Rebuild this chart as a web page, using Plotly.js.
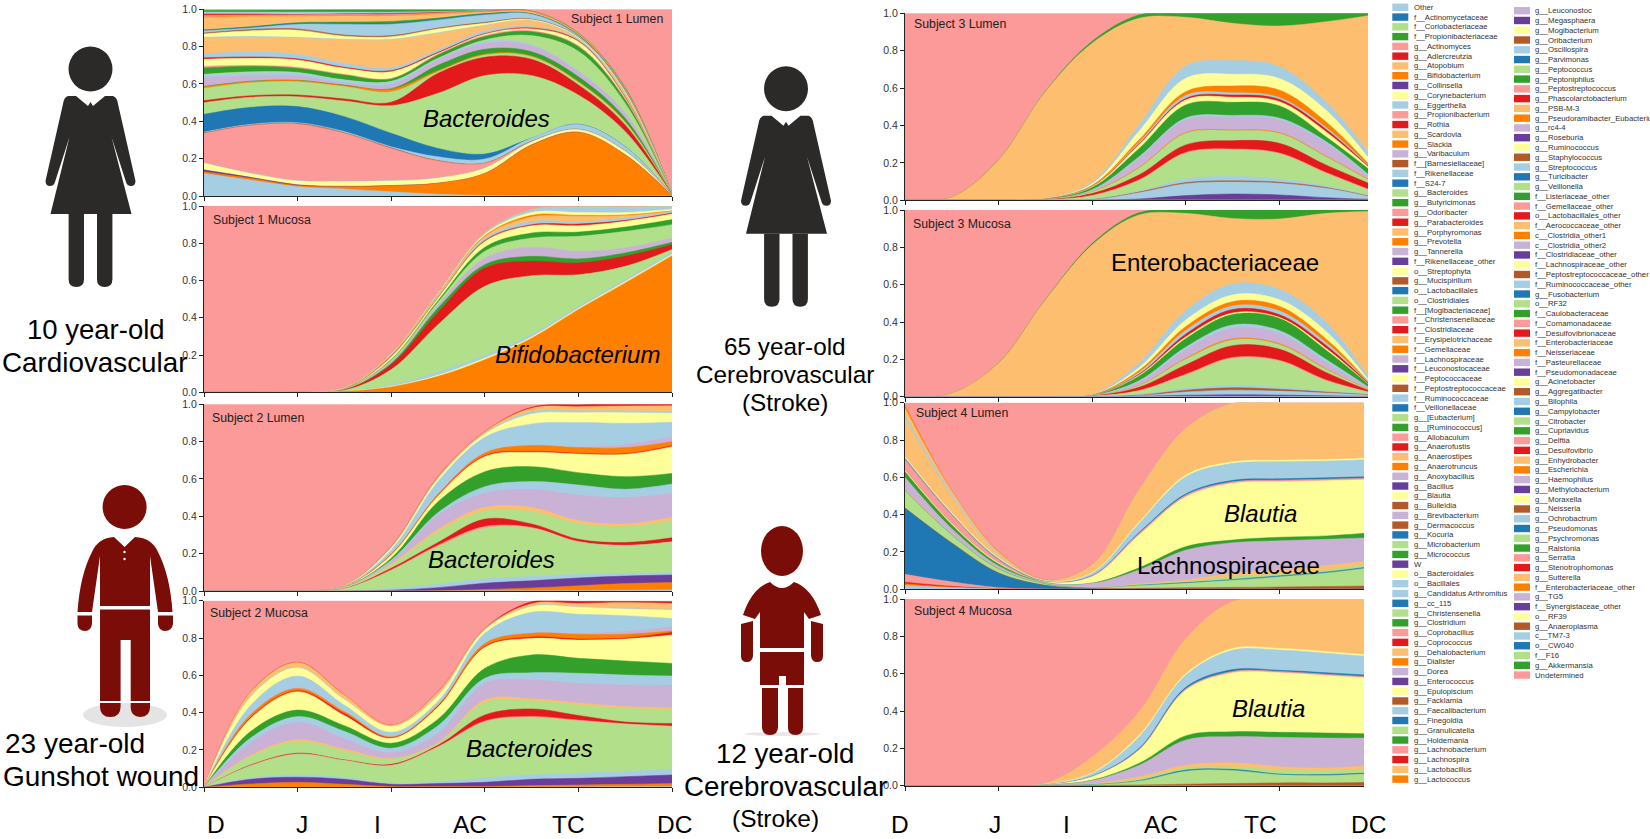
<!DOCTYPE html>
<html>
<head>
<meta charset="utf-8">
<script src="https://cdn.plot.ly/plotly-3.0.1.min.js"></script>
<style>html,body{margin:0;padding:0;background:#fff;overflow:hidden}#chart{width:1650px;height:839px}</style>
</head>
<body>
<div id="chart"></div>
<script>
const siteLabels = ['D','J','I','AC','TC','DC'];
const positions = [0,.5,1,1.5,2,2.5,3,3.5,4,4.5,5];
const paired = ['#a6cee3','#1f78b4','#b2df8a','#33a02c','#fb9a99','#e31a1c','#fdbf6f','#ff7f00','#cab2d6','#6a3d9a','#ffff99','#b15928'];

const legendCol1 = ['Other','f__Actinomycetaceae','f__Coriobacteriaceae','f__Propionibacteriaceae','g__Actinomyces','g__Adlercreutzia','g__Atopobium','g__Bifidobacterium','g__Collinsella','g__Corynebacterium','g__Eggerthella','g__Propionibacterium','g__Rothia','g__Scardovia','g__Slackia','g__Varibaculum','f__[Barnesiellaceae]','f__Rikenellaceae','f__S24-7','g__Bacteroides','g__Butyricimonas','g__Odoribacter','g__Parabacteroides','g__Porphyromonas','g__Prevotella','g__Tannerella','f__Rikenellaceae_other','o__Streptophyta','g__Mucispirillum','o__Lactobacillales','o__Clostridiales','f__[Mogibacteriaceae]','f__Christensenellaceae','f__Clostridiaceae','f__Erysipelotrichaceae','f__Gemellaceae','f__Lachnospiraceae','f__Leuconostocaceae','f__Peptococcaceae','f__Peptostreptococcaceae','f__Ruminococcaceae','f__Veillonellaceae','g__[Eubacterium]','g__[Ruminococcus]','g__Allobaculum','g__Anaerofustis','g__Anaerostipes','g__Anaerotruncus','g__Anoxybacillus','g__Bacillus','g__Blautia','g__Bulleidia','g__Brevibacterium','g__Dermacoccus','g__Kocuria','g__Microbacterium','g__Micrococcus','W','o__Bacteroidales','o__Bacillales','g__Candidatus Arthromitus','g__cc_115','g__Christensenella','g__Clostridium','g__Coprobacillus','g__Coprococcus','g__Dehalobacterium','g__Dialister','g__Dorea','g__Enterococcus','g__Epulopiscium','g__Facklamia','g__Faecalibacterium','g__Finegoldia','g__Granulicatella','g__Holdemania','g__Lachnobacterium','g__Lachnospira','g__Lactobacillus','g__Lactococcus'];
const legendCol1Paired = [0,1,2,3,4,5,6,7,9,10,0,4,5,6,7,8,11,0,1,2,3,4,5,6,7,8,9,10,11,1,2,3,4,5,6,7,8,9,10,11,0,1,2,3,4,5,6,7,8,9,10,11,8,11,1,2,3,9,10,0,0,1,2,3,4,5,6,7,8,9,10,11,0,1,2,3,4,5,6,7];
const legendCol2 = ['g__Leuconostoc','g__Megasphaera','g__Mogibacterium','g__Oribacterium','g__Oscillospira','g__Parvimonas','g__Peptococcus','g__Peptoniphilus','g__Peptostreptococcus','g__Phascolarctobacterium','g__PSB-M-3','g__Pseudoramibacter_Eubacterium','g__rc4-4','g__Roseburia','g__Ruminococcus','g__Staphylococcus','g__Streptococcus','g__Turicibacter','g__Veillonella','f__Listeriaceae_other','f__Gemellaceae_other','o__Lactobacillales_other','f__Aerococcaceae_other','c__Clostridia_other1','c__Clostridia_other2','f__Clostridiaceae_other','f__Lachnospiraceae_other','f__Peptostreptococcaceae_other','f__Ruminococcaceae_other','g__Fusobacterium','o__RF32','f__Caulobacteraceae','f__Comamonadaceae','f__Desulfovibrionaceae','f__Enterobacteriaceae','f__Neisseriaceae','f__Pasteurellaceae','f__Pseudomonadaceae','g__Acinetobacter','g__Aggregatibacter','g__Bilophila','g__Campylobacter','g__Citrobacter','g__Cupriavidus','g__Delftia','g__Desulfovibrio','g__Enhydrobacter','g__Escherichia','g__Haemophilus','g__Methylobacterium','g__Moraxella','g__Neisseria','g__Ochrobactrum','g__Pseudomonas','g__Psychromonas','g__Ralstonia','g__Serratia','g__Stenotrophomonas','g__Sutterella','f__Enterobacteriaceae_other','g__TG5','f__Synergistaceae_other','o__RF39','g__Anaeroplasma','c__TM7-3','o__CW040','f__F16','g__Akkermansia','Undetermined'];

const s1LumenTaxa = ['Other','g__Bifidobacterium','g__Collinsella','g__Corynebacterium','g__Eggerthella','g__Propionibacterium','f__[Barnesiellaceae]','f__Rikenellaceae','f__S24-7','g__Bacteroides','g__Parabacteroides','o__Clostridiales','f__Gemellaceae','f__[Mogibacteriaceae]','f__Lachnospiraceae','f__Ruminococcaceae','g__[Eubacterium]','g__[Ruminococcus]','g__Allobaculum','g__Blautia','g__Anaerofustis','o__Bacillales','g__Dehalobacterium','g__Candidatus Arthromitus','g__Epulopiscium','g__Facklamia','g__Faecalibacterium','g__Finegoldia','g__Holdemania','g__Lactobacillus','g__Lactococcus','g__Peptostreptococcus','g__Phascolarctobacterium','g__Streptococcus','f__Listeriaceae_other','g__Veillonella','Undetermined'];
const s1LumenTops = [
[.12,.085,.05,.038,.023,.01,.003,0,0,0,0],
[.13,.095,.056,.05,.055,.068,.12,.273,.341,.22,.003],
[.14,.10,.06,.052,.056,.069,.121,.274,.342,.221,.003],
[.175,.12,.08,.077,.08,.095,.148,.288,.354,.238,.004],
[.178,.123,.083,.08,.083,.098,.15,.29,.356,.24,.004],
[.335,.377,.386,.336,.255,.188,.175,.292,.357,.241,.004],
[.338,.38,.389,.339,.258,.19,.177,.294,.358,.242,.004],
[.342,.384,.393,.345,.264,.21,.198,.31,.384,.264,.005],
[.4375,.475,.479,.425,.336,.255,.225,.31,.385,.265,.005],
[.50,.529,.532,.509,.484,.55,.645,.645,.541,.345,.006],
[.511,.537,.541,.52,.502,.657,.743,.732,.595,.38,.007],
[.577,.607,.612,.586,.559,.666,.755,.746,.609,.395,.007],
[.585,.613,.618,.592,.572,.672,.76,.75,.613,.398,.007],
[.587,.615,.62,.594,.575,.70,.786,.773,.639,.416,.008],
[.635,.645,.645,.605,.598,.729,.818,.805,.666,.443,.008],
[.648,.66,.66,.62,.612,.735,.83,.81,.67,.445,.008],
[.652,.665,.662,.622,.614,.738,.836,.859,.775,.497,.009],
[.686,.695,.684,.648,.627,.755,.854,.88,.80,.514,.009],
[.695,.70,.69,.652,.63,.76,.86,.885,.805,.52,.009],
[.732,.7375,.729,.684,.666,.764,.866,.895,.827,.525,.01],
[.74,.745,.735,.69,.672,.77,.87,.90,.832,.53,.01],
[.76,.773,.759,.71,.6875,.782,.885,.907,.838,.5375,.01],
[.845,.85,.845,.836,.836,.871,.9125,.9375,.84,.55,.01],
[.85,.855,.85,.84,.84,.875,.915,.94,.845,.555,.011],
[.868,.885,.888,.856,.853,.895,.925,.945,.85,.56,.011],
[.873,.892,.895,.862,.859,.90,.93,.948,.853,.562,.011],
[.885,.90,.92,.92,.92,.943,.97,.973,.858,.565,.011],
[.888,.905,.925,.925,.925,.948,.975,.975,.86,.567,.011],
[.89,.907,.928,.932,.935,.953,.977,.977,.862,.568,.012],
[.955,.961,.961,.964,.964,.973,.984,.984,.866,.572,.012],
[.958,.964,.964,.967,.967,.975,.986,.986,.868,.574,.012],
[.968,.97,.97,.973,.973,.98,.989,.989,.87,.576,.012],
[.975,.975,.972,.976,.978,.983,.99,.99,.871,.578,.012],
[.985,.985,.985,.985,.985,.988,.993,.991,.873,.58,.012],
[.995,.995,.996,.997,.997,.997,.997,.992,.875,.583,.013],
[.998,.998,.998,.998,.998,.998,.998,.993,.877,.586,.013],
[1,1,1,1,1,1,1,1,1,1,1]
];

const s1MucosaTaxa = ['g__Bifidobacterium','g__Corynebacterium','g__Eggerthella','g__Bacteroides','g__Parabacteroides','g__Butyricimonas','f__Lachnospiraceae','o__Clostridiales','f__[Mogibacteriaceae]','g__Blautia','g__Anaerofustis','f__Ruminococcaceae','g__Dehalobacterium','g__Lactococcus','g__Epulopiscium','g__Faecalibacterium','g__Veillonella','Undetermined'];
const s1MucosaTops = [
[0,0,0,.005,.029,.086,.175,.29,.444,.587,.733],
[0,0,0,.006,.032,.092,.183,.297,.45,.594,.74],
[0,0,0,.007,.04,.108,.197,.31,.46,.605,.751],
[0,0,0,.01,.122,.363,.569,.626,.631,.676,.766],
[0,0,0,.012,.148,.429,.667,.703,.694,.73,.792],
[0,0,0,.013,.155,.452,.685,.73,.716,.748,.805],
[0,0,0,.014,.165,.47,.72,.778,.757,.775,.828],
[0,0,0,.015,.172,.483,.757,.828,.837,.864,.90],
[0,0,0,.016,.176,.492,.778,.855,.86,.887,.927],
[0,0,0,.017,.19,.505,.81,.894,.894,.918,.957],
[0,0,0,.018,.194,.508,.815,.90,.903,.923,.962],
[0,0,0,.019,.197,.515,.825,.917,.915,.935,.97],
[0,0,0,.02,.20,.52,.835,.941,.945,.948,.971],
[0,0,0,.021,.202,.524,.84,.95,.95,.952,.974],
[0,0,0,.022,.204,.528,.848,.965,.965,.965,.983],
[0,0,0,.023,.205,.532,.853,.978,.99,.99,.995],
[0,0,0,.024,.206,.533,.855,.98,.995,.995,.998],
[1,1,1,1,1,1,1,1,1,1,1]
];

const subject2Taxa = ['Other','g__Bifidobacterium','g__Collinsella','g__Eggerthella','g__Bacteroides','g__Odoribacter','g__Parabacteroides','o__Clostridiales','f__Erysipelotrichaceae','f__Lachnospiraceae','f__Ruminococcaceae','g__[Ruminococcus]','g__Blautia','g__Coprococcus','g__Dialister','g__Dorea','g__Faecalibacterium','g__Epulopiscium','g__Oscillospira','g__PSB-M-3','g__Phascolarctobacterium','Undetermined'];
const s2LumenTops = [
[0,0,0,0,0,0,.001,.001,.002,.004,.006],
[0,0,0,0,0,.001,.008,.016,.028,.04,.045],
[0,0,0,0,.004,.018,.042,.055,.07,.08,.086],
[0,0,0,.001,.014,.036,.065,.078,.09,.095,.098],
[0,0,0,.012,.11,.238,.336,.336,.262,.243,.262],
[0,0,0,.013,.113,.245,.345,.34,.265,.245,.264],
[0,0,0,.014,.122,.26,.385,.359,.277,.26,.285],
[0,0,0,.016,.139,.318,.4286,.425,.3625,.345,.377],
[0,0,0,.017,.145,.33,.448,.448,.377,.359,.395],
[0,0,0,.02,.157,.407,.523,.545,.514,.5,.523],
[0,0,0,.021,.165,.42,.559,.586,.568,.545,.573],
[0,0,0,.022,.175,.478,.639,.666,.634,.6125,.63],
[0,0,0,.024,.193,.509,.72,.743,.734,.732,.773],
[0,0,0,.024,.195,.512,.725,.748,.738,.736,.778],
[0,0,0,.025,.198,.518,.739,.779,.768,.768,.80],
[0,0,0,.025,.199,.52,.74,.78,.77,.785,.825],
[0,0,0,.027,.22,.586,.823,.895,.902,.898,.904],
[0,0,0,.028,.23,.6,.84,.948,.955,.955,.952],
[0,0,0,.029,.232,.604,.845,.96,.965,.965,.96],
[0,0,0,.03,.236,.611,.853,.979,.9875,.991,.992],
[0,0,0,.03,.2375,.6125,.854,.984,.998,1,1],
[1,1,1,1,1,1,1,1,1,1,1]
];
const s2MucosaTops = [
[0,0,0,0,0,0,0,.001,.002,.003,.004],
[0,.018,.027,.016,.004,.004,.004,.009,.0125,.016,.021],
[0,.043,.054,.043,.016,.02,.027,.043,.048,.057,.066],
[0,.05,.065,.053,.02,.03,.05,.067,.075,.085,.098],
[0,.115,.177,.143,.116,.215,.35,.375,.355,.3375,.325],
[0,.117,.179,.145,.118,.218,.355,.38,.36,.34,.328],
[0,.12,.183,.147,.123,.225,.3875,.42,.385,.35,.342],
[0,.165,.245,.195,.15,.235,.454,.464,.441,.423,.418],
[0,.172,.255,.205,.155,.24,.468,.475,.452,.433,.428],
[0,.24,.348,.26,.186,.29,.557,.575,.557,.548,.548],
[0,.265,.379,.30,.209,.33,.584,.614,.611,.602,.596],
[0,.30,.414,.33,.236,.365,.6375,.709,.691,.677,.664],
[0,.37,.5125,.385,.2625,.43,.75,.798,.789,.795,.816],
[0,.375,.518,.395,.266,.435,.755,.805,.795,.80,.83],
[0,.39,.53,.405,.27,.44,.77,.825,.82,.82,.8375],
[0,.392,.532,.407,.272,.442,.772,.828,.825,.835,.86],
[0,.44,.596,.44,.295,.46,.825,.9375,.927,.92,.905],
[0,.485,.64,.47,.325,.49,.843,.968,.965,.955,.95],
[0,.488,.644,.473,.326,.495,.845,.972,.968,.958,.955],
[0,.5115,.669,.494,.333,.5115,.849,.984,.985,.99,.985],
[0,.5125,.67,.495,.334,.5125,.85,.995,.997,.997,.995],
[1,1,1,1,1,1,1,1,1,1,1]
];

const subject3Taxa = ['Other','g__Collinsella','g__Eggerthella','f__[Barnesiellaceae]','f__Rikenellaceae','g__Bacteroides','g__Odoribacter','g__Parabacteroides','o__Clostridiales','f__Gemellaceae','f__Lachnospiraceae','f__Ruminococcaceae','g__[Ruminococcus]','g__Blautia','g__Coprococcus','g__Faecalibacterium','g__Lactococcus','g__Mogibacterium','g__Oscillospira','f__Enterobacteriaceae','g__Akkermansia','Undetermined'];
const s3LumenTops = [
[0,0,0,0,0,.001,.002,.002,.002,.002,.001],
[0,0,0,0,.001,.007,.025,.034,.029,.014,.005],
[0,0,0,0,.003,.04,.089,.098,.091,.064,.016],
[0,0,0,0,.004,.044,.095,.104,.097,.069,.018],
[0,0,0,.001,.006,.048,.114,.127,.114,.077,.02],
[0,0,0,.002,.024,.105,.251,.269,.248,.144,.046],
[0,0,0,.002,.026,.109,.256,.274,.253,.149,.05],
[0,0,0,.003,.036,.135,.296,.319,.305,.189,.082],
[0,0,0,.003,.044,.172,.358,.3725,.358,.2335,.096],
[0,0,0,.003,.046,.175,.362,.376,.362,.237,.099],
[0,0,0,.004,.052,.224,.43,.444,.43,.305,.109],
[0,0,0,.004,.056,.232,.44,.454,.44,.315,.118],
[0,0,0,.005,.068,.276,.51,.524,.506,.34,.15],
[0,0,0,.005,.072,.296,.537,.551,.528,.367,.157],
[0,0,0,.006,.074,.301,.545,.563,.54,.38,.16],
[0,0,0,.006,.076,.309,.56,.575,.55,.39,.163],
[0,0,0,.007,.08,.322,.581,.611,.59,.42,.171],
[0,0,0,.008,.088,.368,.652,.674,.652,.483,.198],
[0,0,0,.01,.096,.40,.718,.747,.715,.525,.2246],
[0,.016,.216,.581,.84,.973,.979,.9465,.932,.955,.991],
[0,.016,.217,.583,.85,.991,1,1,1,1,1],
[1,1,1,1,1,1,1,1,1,1,1]
];
const s3MucosaTops = [
[0,0,0,0,0,.001,.002,.002,.002,.001,.001],
[0,0,0,0,0,.002,.008,.011,.009,.005,.002],
[0,0,0,0,.001,.005,.025,.035,.03,.02,.008],
[0,0,0,0,.001,.008,.035,.048,.04,.025,.01],
[0,0,0,0,.002,.012,.045,.06,.05,.03,.012],
[0,0,0,0,.003,.03,.115,.205,.19,.085,.018],
[0,0,0,0,.003,.033,.12,.21,.195,.09,.02],
[0,0,0,0,.004,.05,.17,.273,.255,.13,.024],
[0,0,0,0,.004,.058,.2,.304,.28,.147,.026],
[0,0,0,0,.004,.06,.205,.31,.285,.15,.027],
[0,0,0,0,.005,.078,.25,.366,.34,.185,.034],
[0,0,0,0,.005,.085,.265,.384,.355,.20,.036],
[0,0,0,0,.006,.11,.31,.44,.42,.25,.046],
[0,0,0,0,.006,.115,.32,.448,.425,.26,.047],
[0,0,0,0,.007,.12,.335,.467,.44,.275,.05],
[0,0,0,0,.007,.13,.355,.486,.46,.29,.052],
[0,0,0,0,.008,.14,.375,.509,.485,.31,.055],
[0,0,0,0,.009,.155,.41,.545,.52,.35,.06],
[0,0,0,0,.01,.18,.46,.604,.575,.40,.07],
[0,.018,.18,.518,.8125,.973,.982,.955,.952,.982,.992],
[0,.018,.181,.52,.82,.985,1,1,1,1,1],
[1,1,1,1,1,1,1,1,1,1,1]
];

const s4LumenTaxa = ['Other','g__Bifidobacterium','g__Adlercreutzia','g__Actinomyces','f__S24-7','f__[Barnesiellaceae]','g__Bacteroides','o__Lactobacillales','o__Clostridiales','f__Erysipelotrichaceae','f__Lachnospiraceae','g__[Ruminococcus]','g__Blautia','g__Coprobacillus','g__Finegoldia','g__Faecalibacterium','g__Mogibacterium','f__Enterobacteriaceae','g__Oscillospira','g__PSB-M-3','g__Anaerotruncus','Undetermined'];
const s4LumenTops = [
[.02,.009,.001,0,0,0,0,0,0,0,0],
[.03,.012,.002,0,0,0,0,0,0,0,0],
[.038,.016,.003,0,0,0,0,0,0,0,0],
[.08,.04,.009,.001,0,0,0,0,0,0,0],
[.434,.246,.086,.02,.003,.002,.002,.002,.002,.002,.002],
[.436,.248,.088,.021,.004,.005,.008,.01,.012,.015,.018],
[.529,.291,.109,.027,.006,.02,.032,.048,.067,.088,.118],
[.53,.292,.11,.028,.007,.022,.036,.053,.072,.093,.123],
[.531,.293,.111,.029,.008,.026,.042,.068,.082,.104,.139],
[.535,.295,.113,.03,.009,.03,.05,.086,.104,.127,.157],
[.60,.325,.125,.035,.032,.104,.21,.25,.26,.268,.277],
[.63,.345,.135,.037,.034,.115,.229,.264,.279,.286,.304],
[.635,.35,.14,.04,.068,.291,.496,.568,.577,.582,.589],
[.696,.398,.157,.041,.072,.30,.505,.576,.585,.59,.597],
[.70,.40,.16,.042,.074,.305,.512,.584,.592,.598,.604],
[.705,.405,.165,.044,.086,.354,.604,.675,.684,.6875,.696],
[.71,.41,.168,.045,.09,.36,.612,.683,.692,.695,.704],
[.916,.496,.184,.047,.13,.532,.8625,.996,1,1,1],
[.934,.51,.19,.048,.13,.532,.8625,.996,1,1,1],
[.97,.525,.199,.05,.13,.532,.8625,.996,1,1,1],
[.9875,.529,.202,.051,.13,.532,.8625,.996,1,1,1],
[1,1,1,1,1,1,1,1,1,1,1]
];

const s4MucosaTaxa = ['f__[Barnesiellaceae]','g__Bacteroides','o__Lactobacillales','o__Clostridiales','f__Erysipelotrichaceae','f__Lachnospiraceae','g__[Ruminococcus]','g__Blautia','g__Coprobacillus','g__Finegoldia','g__Faecalibacterium','g__Mogibacterium','f__Enterobacteriaceae','Undetermined'];
const s4MucosaTops = [
[0,0,0,0,.001,.004,.008,.012,.015,.015,.018],
[0,0,0,.001,.005,.025,.078,.082,.058,.055,.065],
[0,0,0,.001,.006,.028,.084,.0875,.0625,.06,.07],
[0,0,0,.001,.008,.036,.095,.10,.085,.08,.09],
[0,0,0,.002,.01,.048,.11,.123,.102,.095,.11],
[0,0,0,.003,.028,.11,.245,.2625,.259,.255,.255],
[0,0,0,.003,.03,.12,.268,.289,.286,.282,.278],
[0,0,0,.004,.048,.19,.5125,.605,.605,.59,.575],
[0,0,0,.004,.05,.195,.52,.612,.612,.597,.582],
[0,0,0,.005,.052,.2,.528,.622,.618,.605,.59],
[0,0,0,.007,.066,.2625,.593,.727,.727,.71,.69],
[0,0,0,.008,.07,.27,.60,.735,.735,.718,.698],
[0,0,0,.0125,.155,.396,.789,.986,1,1,1],
[1,1,1,1,1,1,1,1,1,1,1]
];

/* ---- drawing ---- */
const W = 1650, H = 839;
const FONT = '"Liberation Sans", Arial, sans-serif';
const colourOf = {};
legendCol1.forEach((n,i)=>{colourOf[n]=paired[legendCol1Paired[i]];});
legendCol2.forEach((n,i)=>{colourOf[n]=paired[(8+i)%12];});

const panels = [
 {label:'Subject 1 Lumen',  taxa:s1LumenTaxa,  tops:s1LumenTops,  l:204,r:672,t:9.3,b:196,  xmax:5,   lx:569,ly:19},
 {label:'Subject 1 Mucosa', taxa:s1MucosaTaxa, tops:s1MucosaTops, l:204,r:672,t:206,b:392.3,xmax:5,   lx:211,ly:220},
 {label:'Subject 2 Lumen',  taxa:subject2Taxa, tops:s2LumenTops,  l:204,r:672,t:404.3,b:591,xmax:5,   lx:210,ly:418},
 {label:'Subject 2 Mucosa', taxa:subject2Taxa, tops:s2MucosaTops, l:204,r:672,t:600.7,b:787.3,xmax:5, lx:208,ly:613},
 {label:'Subject 3 Lumen',  taxa:subject3Taxa, tops:s3LumenTops,  l:905,r:1368,t:13.3,b:200.3,xmax:4.95,lx:912,ly:24},
 {label:'Subject 3 Mucosa', taxa:subject3Taxa, tops:s3MucosaTops, l:905,r:1368,t:210,b:396.7,xmax:4.95,lx:911,ly:224},
 {label:'Subject 4 Lumen',  taxa:s4LumenTaxa,  tops:s4LumenTops,  l:905,r:1364,t:402.7,b:589.3,xmax:4.9,lx:914,ly:413},
 {label:'Subject 4 Mucosa', taxa:s4MucosaTaxa, tops:s4MucosaTops, l:905,r:1364,t:599,b:785.7,xmax:4.9,lx:912,ly:611}
];

const px = x => x/W, py = y => 1-y/H;
const traces = [];
const layout = {
  width:W, height:H, margin:{l:0,r:0,t:0,b:0}, paper_bgcolor:'#fff', plot_bgcolor:'#fff',
  showlegend:false, font:{family:FONT,color:'#222'}, hovermode:false, shapes:[], annotations:[]
};

panels.forEach((p,k)=>{
  const n = k+1, xk = 'xaxis'+n, yk = 'yaxis'+n;
  layout[xk] = {domain:[px(p.l),px(p.r)], range:[0,p.xmax], anchor:'y'+n, showgrid:false, zeroline:false,
    showline:true, linecolor:'#222', linewidth:1, ticks:'outside', ticklen:4, tickcolor:'#222',
    tickvals:siteLabels.map((_,i)=>i), showticklabels:false, fixedrange:true};
  layout[yk] = {domain:[py(p.b),py(p.t)], range:[0,1], anchor:'x'+n, showgrid:false, zeroline:false,
    showline:true, linecolor:'#222', linewidth:1, ticks:'outside', ticklen:4, tickcolor:'#222',
    tick0:0, dtick:.2, tickformat:'.1f', tickfont:{family:FONT,size:10.5,color:'#333'}, fixedrange:true};
  for (let i=p.tops.length-1;i>=0;i--){
    const c = colourOf[p.taxa[i]];
    traces.push({type:'scatter',mode:'lines',name:p.taxa[i],x:positions,y:p.tops[i],xaxis:'x'+n,yaxis:'y'+n,
      line:{shape:'spline',smoothing:1,width:.5,color:c},fill:'tozeroy',fillcolor:c,hoverinfo:'skip',showlegend:false});
  }
});

function note(text,x,y,size,opt){
  layout.annotations.push(Object.assign({text,x:px(x),y:py(y),xref:'paper',yref:'paper',showarrow:false,
    xanchor:'center',yanchor:'middle',font:{family:FONT,size,color:'#000'}},opt||{}));
}
panels.forEach(p=>note(p.label,p.lx,p.ly,12.3,{xanchor:'left',font:{family:FONT,size:12.3,color:'#222'}}));

/* site labels under both columns */
const siteXLeft = [216,302,377,470,568,674], siteXRight = [900,995,1066,1161,1260,1368];
siteLabels.forEach((s,i)=>{note(s,siteXLeft[i],824,24.5);note(s,siteXRight[i],824,24.5);});

/* taxa called out in the plots */
[['Bacteroides',486,118,1],['Bifidobacterium',577,354,1],['Bacteroides',492,559,1],['Bacteroides',529,748,1],
 ['Enterobacteriaceae',1215,262,0],['Blautia',1260,513,1],['Lachnospiraceae',1228,565,0],['Blautia',1268,708,1]
].forEach(a=>note(a[3]?'<i>'+a[0]+'</i>':a[0],a[1],a[2],24));

/* subject captions */
[['10 year-old',96,329,27.5],['Cardiovascular',94,362,27.8],['23 year-old',75,743,28],['Gunshot wound',101,776,28],
 ['65 year-old',785,346,24.3],['Cerebrovascular',785,374,24.3],['(Stroke)',785,403,24.3],
 ['12 year-old',785,753,27.7],['Cerebrovascular',785,786,27.7],['(Stroke)',775,818,24.5]
].forEach(a=>note(a[0],a[1],a[2],a[3]));

/* legend: swatches and labels */
function legendColumn(names,colours,swatchX,textX,firstY){
  names.forEach((name,i)=>{
    const y = firstY+i*9.77;
    layout.shapes.push({type:'rect',xref:'paper',yref:'paper',x0:px(swatchX),x1:px(swatchX+16),y0:py(y-3.7),y1:py(y+3.7),
      fillcolor:colours[i],line:{width:0}});
    note(name,textX,y,7.75,{xanchor:'left',font:{family:FONT,size:7.75,color:'#333'}});
  });
}
legendColumn(legendCol1,legendCol1.map(n=>colourOf[n]),1392.3,1411.7,7.3);
legendColumn(legendCol2,legendCol2.map(n=>colourOf[n]),1514,1533.3,10.7);

/* pictograms */
function pathOf(d,dx,dy){
  return d.replace(/(-?[\d.]+),(-?[\d.]+)/g,(m,a,b)=>px(+a+dx).toFixed(5)+','+py(+b+dy).toFixed(5));
}
function poly(d,col,dx,dy){layout.shapes.push({type:'path',xref:'paper',yref:'paper',path:pathOf(d,dx||0,dy||0),fillcolor:col,line:{width:0}});}
function oval(cx,cy,rx,ry,col){layout.shapes.push({type:'circle',xref:'paper',yref:'paper',x0:px(cx-rx),x1:px(cx+rx),y0:py(cy+ry),y1:py(cy-ry),fillcolor:col,line:{width:0}});}
function leg(x0,x1,y0,y1,col,dx,dy){const r=(x1-x0)/2;poly(`M${x0},${y0} L${x1},${y0} L${x1},${y1-r} Q${x1},${y1} ${x0+r},${y1} Q${x0},${y1} ${x0},${y1-r} Z`,col,dx,dy);}

function woman(dx,dy){
  const c='#2b2a29';
  oval(90.5+dx,69+dy,22,22.5,c);
  poly('M76,96 L88,106 L90.5,102 L93,106 L105,96 L113,96 Q117,97 118,104 L135.5,181 Q135.5,186 131,186 Q127,186 126,182 L111.5,137 L131.5,214 L50.5,214 L69.5,137 L55,182 Q54,186 50,186 Q45.5,186 45.5,181 L63,104 Q64,97 68,96 Z',c,dx,dy);
  leg(68.6,84,214,287,c,dx,dy);
  leg(97,112.4,214,287,c,dx,dy);
}
woman(0,0);
woman(695.5,19.7);

const maroon='#7a0d08';
/* 23 year-old */
oval(125,715,42,12,'#e4e4e4');
oval(124.6,507,22,22,maroon);
poly('M114,537 L124.6,547 L135,537 Q152,538 158,552 Q170,575 172.5,612 L158,612 L150,556 L150,606 L100,606 L100,556 L92,612 L77.5,612 Q80,575 92,552 Q98,538 114,537 Z',maroon);
poly('M77.5,615.5 L92,615.5 L92,624 Q91,631 85,631 Q78,631 77.5,624 Z',maroon);
poly('M158,615.5 L173,615.5 L173,624 Q172,631 165,631 Q159,631 158,624 Z',maroon);
poly('M100,609.5 L150,609.5 L150,701 L130.7,701 L130.7,640 L120.6,640 L120.6,701 L100,701 Z',maroon);
leg(100,120.6,703,717,maroon);
leg(130.7,150,703,717,maroon);
oval(124.5,552,1.2,1.2,'#fff');
oval(124.5,559,1.2,1.2,'#fff');
/* 12 year-old */
oval(782,734,38,2,'#e8e8e8');
oval(782,551,21,25,maroon);
poly('M770,582 Q782,594 794,582 Q812,588 821,615 L809,619 L804,612 L804,648 L760,648 L760,612 L755,619 L743,615 Q752,588 770,582 Z',maroon);
poly('M741,624 L753,621 L753,656 Q752,662 747,662 Q741,662 741,656 Z',maroon);
poly('M811,621 L823,624 L823,656 Q823,662 817,662 Q812,662 811,656 Z',maroon);
poly('M760,652 L804,652 L804,685 L786,685 L786,676 L779,676 L779,685 L760,685 Z',maroon);
leg(762,778,688,735,maroon);
leg(788,803,688,735,maroon);

Plotly.newPlot('chart',traces,layout,{displayModeBar:false,staticPlot:true});
</script>
</body>
</html>
